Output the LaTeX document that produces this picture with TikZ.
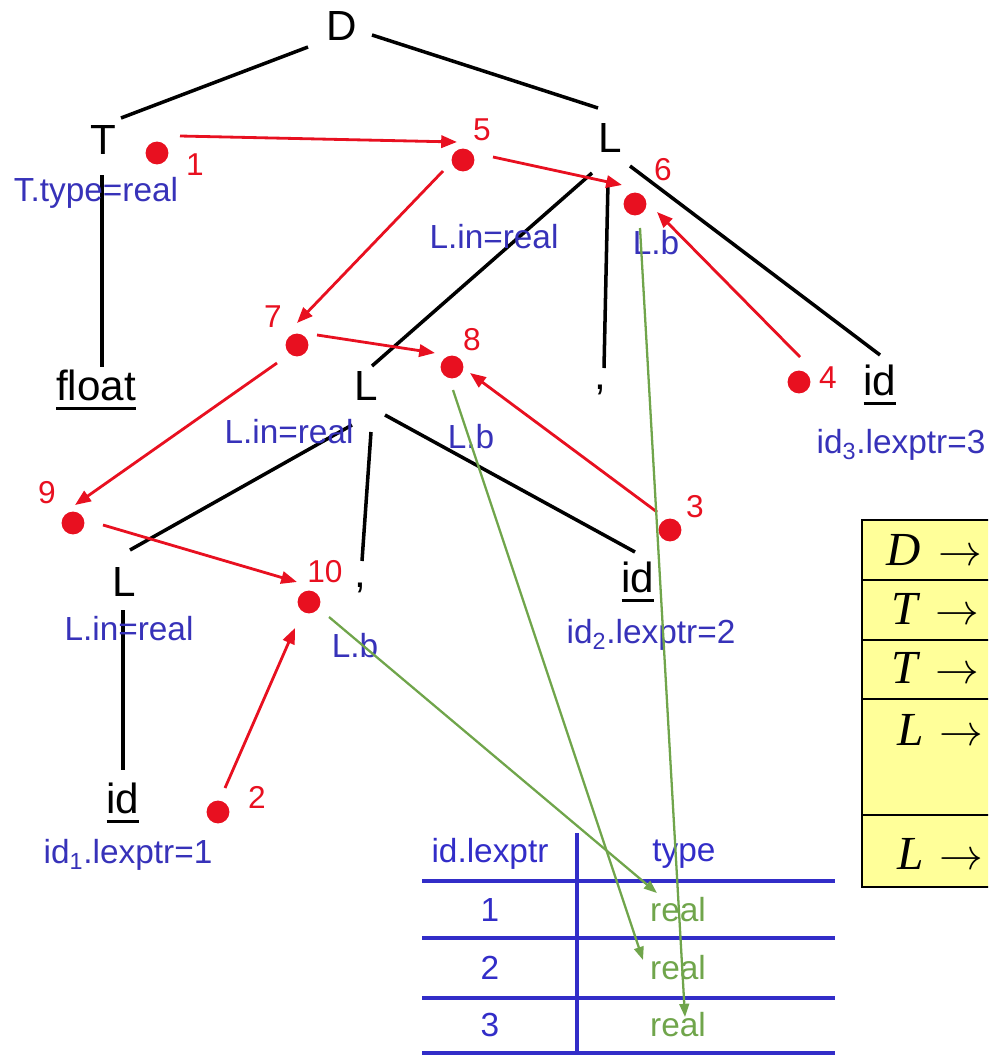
\documentclass[tikz,border=0pt]{standalone}
\usepackage{fontspec}
\setmainfont{Liberation Sans}
\newfontfamily\tmsfont{Liberation Serif}
\usetikzlibrary{arrows.meta}
\definecolor{dotred}{RGB}{232,16,32}
\definecolor{attrblue}{RGB}{55,50,185}
\definecolor{tblblue}{RGB}{50,45,200}
\definecolor{grn}{RGB}{112,165,75}
\definecolor{yel}{RGB}{255,255,153}
\newcommand\myul[1]{\setbox0\hbox{#1}\rlap{\smash{\raisebox{-5.8pt}{\rule{\wd0}{1.8pt}}}}\box0}
\begin{document}
\begin{tikzpicture}[x=0.02cm,y=-0.02cm,
  tree/.style={font=\fontsize{24}{28}\selectfont, inner sep=0pt},
  attr/.style={text=attrblue, font=\fontsize{19}{22}\selectfont, inner sep=0pt},
  num/.style={text=dotred, font=\fontsize{18}{20}\selectfont, inner sep=0pt},
  reddot/.style={circle, fill=dotred, minimum size=13pt, inner sep=0pt},
  edge/.style={line width=2pt, black},
  flow/.style={line width=1.6pt, dotred, -{Triangle[length=9pt,width=7pt]}},
  gflow/.style={line width=1.3pt, grn, -{Triangle[length=7.5pt,width=5.5pt]}},
  tbltext/.style={text=tblblue, font=\fontsize{19}{22}\selectfont, inner sep=0pt},
  tblreal/.style={text=grn, font=\fontsize{19}{22}\selectfont, inner sep=0pt},
  tline/.style={line width=1.8pt, tblblue},
  prod/.style={font=\fontsize{27}{30}\selectfont, inner sep=0pt, anchor=west}
]
\useasboundingbox (0,0) rectangle (988,1055);
\clip (0,0) rectangle (988,1055);

% ---- yellow production table (cut at the right edge)
\fill[yel] (862,520) rectangle (1000,887);
\draw[line width=1.5pt] (1000,520) -- (862,520) -- (862,887) -- (1000,887);
\foreach \yy in {580,640,699,815} \draw[line width=1.5pt] (862,\yy) -- (1000,\yy);
\node[prod] (p1) at (886,550) {{\tmsfont\itshape D}\hspace{10pt}{\fontsize{30}{30}\selectfont$\rightarrow$}};
\node[prod] (p2) at (891,609) {{\tmsfont\itshape T}\hspace{10pt}{\fontsize{30}{30}\selectfont$\rightarrow$}};
\node[prod] (p3) at (891,668) {{\tmsfont\itshape T}\hspace{10pt}{\fontsize{30}{30}\selectfont$\rightarrow$}};
\node[prod] (p4) at (897,730) {{\tmsfont\itshape L}\hspace{9pt}{\fontsize{30}{30}\selectfont$\rightarrow$}};
\node[prod] (p5) at (897,854) {{\tmsfont\itshape L}\hspace{9pt}{\fontsize{30}{30}\selectfont$\rightarrow$}};

% ---- symbol table
\node[tbltext] (hA) at (490,854) {id.lexptr};
\node[tbltext] (hB) at (684,854) {type};
\node[tbltext] (r1a) at (490,910) {1};
\node[tbltext] (r2a) at (490,968) {2};
\node[tbltext] (r3a) at (490,1025) {3};
\node[tblreal] (r1) at (678,910) {real};
\node[tblreal] (r2) at (678,968) {real};
\node[tblreal] (r3) at (678,1025) {real};
\foreach \yy in {881,938,998,1053} \draw[tline] (422,\yy) -- (835,\yy);
\draw[tline] (577,833) -- (577,1060);

% ---- parse tree
\node[tree] (D) at (342,26) {D};
\node[tree] (T) at (103,140) {T};
\node[tree] (L1) at (610,138) {L};
\node[tree] (fl) at (96,385) {\myul{float}};
\node[tree] (L2) at (366,386) {L};
\node[tree] (c1) at (600,390) {,};
\node[tree] (idR) at (880,380) {\myul{id}};
\node[tree] (L3) at (124,582) {L};
\node[tree] (c2) at (360,588) {,};
\node[tree] (idM) at (638,577) {\myul{id}};
\node[tree] (idB) at (123,798) {\myul{id}};

\draw[edge] ([shift={(-34,21)}]D.center) -- ([shift={(18,-22)}]T.center);
\draw[edge] ([shift={(30,9)}]D.center) -- ([shift={(-12,-30)}]L1.center);
\draw[edge] ([shift={(-1,35)}]T.center) -- ([shift={(6,-18)}]fl.center);
\draw[edge] ([shift={(-18,35)}]L1.center) -- ([shift={(6,-20)}]L2.center);
\draw[edge] ([shift={(-2,44)}]L1.center) -- ([shift={(4,-22)}]c1.center);
\draw[edge] ([shift={(20,28)}]L1.center) -- ([shift={(0,-25)}]idR.center);
\draw[edge] ([shift={(-14,39)}]L2.center) -- ([shift={(6,-32)}]L3.center);
\draw[edge] ([shift={(5,46)}]L2.center) -- ([shift={(2,-27)}]c2.center);
\draw[edge] ([shift={(19,29)}]L2.center) -- ([shift={(-3,-25)}]idM.center);
\draw[edge] ([shift={(-1,28)}]L3.center) -- ([shift={(0,-28)}]idB.center);

% ---- attribute labels
\node[attr] (aT) at (96,193) {T.type=real};
\node[attr] (aL1in) at (494,237) {L.in=real};
\node[attr] (aL1b) at (656,243) {L.b};
\node[attr] (aL2in) at (289,432) {L.in=real};
\node[attr] (aL2b) at (471,437) {L.b};
\node[attr] (aid3) at (901,445) {id\textsubscript{3}.lexptr=3};
\node[attr] (aL3in) at (129,629) {L.in=real};
\node[attr] (aL3b) at (355,646) {L.b};
\node[attr] (aid2) at (651,635) {id\textsubscript{2}.lexptr=2};
\node[attr] (aid1) at (128,855) {id\textsubscript{1}.lexptr=1};

% ---- dependency-graph dots
\node[reddot] (d1) at (157,153) {};
\node[reddot] (d5) at (463,160) {};
\node[reddot] (d6) at (635,204) {};
\node[reddot] (d7) at (297,345) {};
\node[reddot] (d8) at (452,367) {};
\node[reddot] (d4) at (799,382) {};
\node[reddot] (d9) at (73,523) {};
\node[reddot] (d3) at (670,530) {};
\node[reddot] (d10) at (309,602) {};
\node[reddot] (d2) at (218,812) {};

\node[num] (n1) at (195,165) {1};
\node[num] (n5) at (482,130) {5};
\node[num] (n6) at (663,170) {6};
\node[num] (n7) at (273,317) {7};
\node[num] (n8) at (472,340) {8};
\node[num] (n4) at (828,378) {4};
\node[num] (n9) at (47,493) {9};
\node[num] (n10) at (325,572) {10};
\node[num] (n3) at (695,507) {3};
\node[num] (n2) at (257,797) {2};

% ---- red dependency arrows
\draw[flow] ([shift={(23,-17)}]d1.center) -- ([shift={(-6,-18)}]d5.center);
\draw[flow] ([shift={(30,-3)}]d5.center) -- ([shift={(-13,-19)}]d6.center);
\draw[flow] ([shift={(-20,11)}]d5.center) -- ([shift={(0,-22)}]d7.center);
\draw[flow] ([shift={(20,-10)}]d7.center) -- ([shift={(-17,-14)}]d8.center);
\draw[flow] ([shift={(1,-25)}]d4.center) -- ([shift={(22,8)}]d6.center);
\draw[flow] ([shift={(-20,18)}]d7.center) -- ([shift={(2,-18)}]d9.center);
\draw[flow] ([shift={(30,2)}]d9.center) -- ([shift={(-12,-20)}]d10.center);
\draw[flow] ([shift={(-13,-18)}]d3.center) -- ([shift={(18,6)}]d8.center);
\draw[flow] ([shift={(7,-24)}]d2.center) -- ([shift={(-14,26)}]d10.center);

% ---- green arrows into the symbol table
\draw[gflow] ([shift={(5,24)}]d6.center) -- ([shift={(7,-8)}]r3.center);
\draw[gflow] ([shift={(1,23)}]d8.center) -- ([shift={(-35,-8)}]r2.center);
\draw[gflow] ([shift={(20,15)}]d10.center) -- ([shift={(-21,-17)}]r1.center);
\end{tikzpicture}
\end{document}
